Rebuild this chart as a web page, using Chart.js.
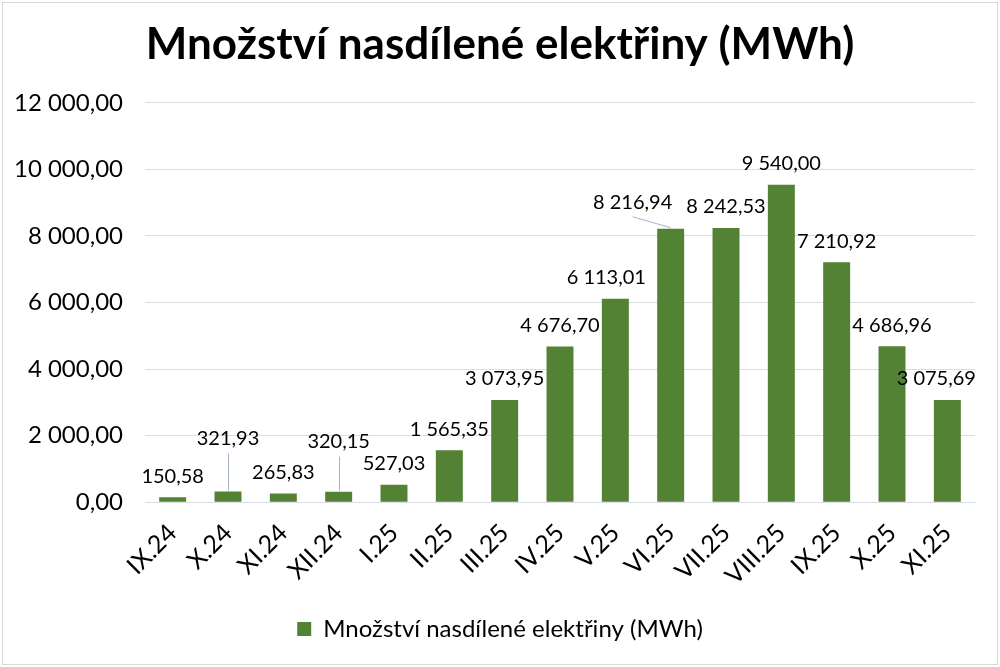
<!DOCTYPE html>
<html lang="cs">
<head>
<meta charset="utf-8">
<title>Množství nasdílené elektřiny (MWh)</title>
<script src="https://cdn.jsdelivr.net/npm/chart.js@4/dist/chart.umd.min.js"></script>
<style>
  html, body { margin: 0; padding: 0; background: #fff; }
  #wrap { position: relative; width: 1000px; height: 667px; }
</style>
</head>
<body>
<div id="wrap"><canvas id="chart"></canvas></div>
<script>
const months = ['IX.24', 'X.24', 'XI.24', 'XII.24', 'I.25', 'II.25', 'III.25', 'IV.25',
  'V.25', 'VI.25', 'VII.25', 'VIII.25', 'IX.25', 'X.25', 'XI.25'];
const sharedMWh = [150.58, 321.93, 265.83, 320.15, 527.03, 1565.35, 3073.95, 4676.70,
  6113.01, 8216.94, 8242.53, 9540.00, 7210.92, 4686.96, 3075.69];
const seriesName = 'Množství nasdílené elektřiny (MWh)';
const yTicks = [0, 2000, 4000, 6000, 8000, 10000, 12000];

// manual nudges of data labels (px), like the moved labels in the original sheet
const labelNudge = [[0, 0], [0, -32], [0, 0], [0, -29], [0, 0], [0, 0], [0, 0], [0, 0],
  [-9, 0], [-38, -5], [0, 0], [0, 0], [0, 0], [0, 0], [-11, 0]];

const FONT = 'Lato, "Open Sans", sans-serif';
const GREEN = '#548235';

function czNumber(v) {
  const parts = v.toFixed(2).split('.');
  const whole = parts[0].replace(/\B(?=(\d{3})+(?!\d))/g, ' ');
  return whole + ',' + parts[1];
}

const frame = {
  id: 'frame',
  beforeDraw(chart) {
    const c = chart.ctx;
    c.save();
    c.fillStyle = '#fff';
    c.fillRect(0, 0, chart.width, chart.height);
    c.strokeStyle = '#d9d9d9';
    c.lineWidth = 1;
    c.strokeRect(2.5, 2.5, chart.width - 5, chart.height - 5);
    c.restore();
  }
};

const barLabels = {
  id: 'barLabels',
  afterDatasetsDraw(chart) {
    const c = chart.ctx;
    const meta = chart.getDatasetMeta(0);
    c.save();
    c.font = '20px ' + FONT;
    c.fillStyle = '#000';
    c.textAlign = 'center';
    c.textBaseline = 'middle';
    meta.data.forEach((bar, i) => {
      const [dx, dy] = labelNudge[i];
      const x = bar.x + dx;
      const y = bar.y - 21 + dy;
      if (dx !== 0 || dy < -10) {
        c.strokeStyle = '#a6b4c8';
        c.lineWidth = 1;
        c.beginPath();
        if (dy < -10) {
          c.moveTo(Math.round(bar.x) + 0.5, y + 15);
          c.lineTo(Math.round(bar.x) + 0.5, bar.y - 1);
        } else if (dx < -20) {
          c.moveTo(x, y + 14);
          c.lineTo(bar.x, bar.y - 1);
        }
        c.stroke();
      }
      c.fillText(czNumber(sharedMWh[i]), x, y);
    });
    c.restore();
  }
};

Chart.defaults.font.family = FONT;
Chart.defaults.color = '#000';

new Chart(document.getElementById('chart'), {
  type: 'bar',
  data: {
    labels: months,
    datasets: [{
      label: seriesName,
      data: sharedMWh,
      backgroundColor: GREEN,
      borderWidth: 0,
      barPercentage: 0.75,
      categoryPercentage: 0.65
    }]
  },
  options: {
    responsive: true,
    maintainAspectRatio: false,
    animation: false,
    layout: { padding: { left: 0, right: 0, top: 6, bottom: 16 } },
    plugins: {
      title: {
        display: true,
        text: seriesName,
        font: { size: 44, weight: 'bold' },
        color: '#000',
        padding: { top: 12, bottom: 32 }
      },
      legend: {
        position: 'bottom',
        labels: {
          boxWidth: 14,
          boxHeight: 14,
          padding: 10,
          font: { size: 24 },
          color: '#000'
        }
      },
      tooltip: { enabled: false }
    },
    scales: {
      x: {
        grid: { display: false, drawTicks: false },
        border: { color: '#d9dde6', width: 1 },
        ticks: {
          maxRotation: 45,
          minRotation: 45,
          padding: 16,
          font: { size: 25 },
          color: '#000'
        }
      },
      y: {
        min: 0,
        max: 12000,
        afterBuildTicks(axis) {
          axis.ticks = yTicks.map(v => ({ value: v }));
        },
        afterFit(axis) { axis.width = 145; },
        grid: { color: '#d9dde6', drawTicks: false },
        border: { display: false },
        ticks: {
          padding: 22,
          font: { size: 24 },
          color: '#000',
          callback: v => czNumber(v)
        }
      },
      // empty axis that only keeps the right margin, so title and legend stay centred
      yRight: {
        position: 'right',
        min: 0,
        max: 12000,
        afterFit(axis) { axis.width = 25; },
        grid: { display: false, drawTicks: false },
        border: { display: false },
        ticks: { display: false }
      }
    }
  },
  plugins: [frame, barLabels]
});
</script>
</body>
</html>
